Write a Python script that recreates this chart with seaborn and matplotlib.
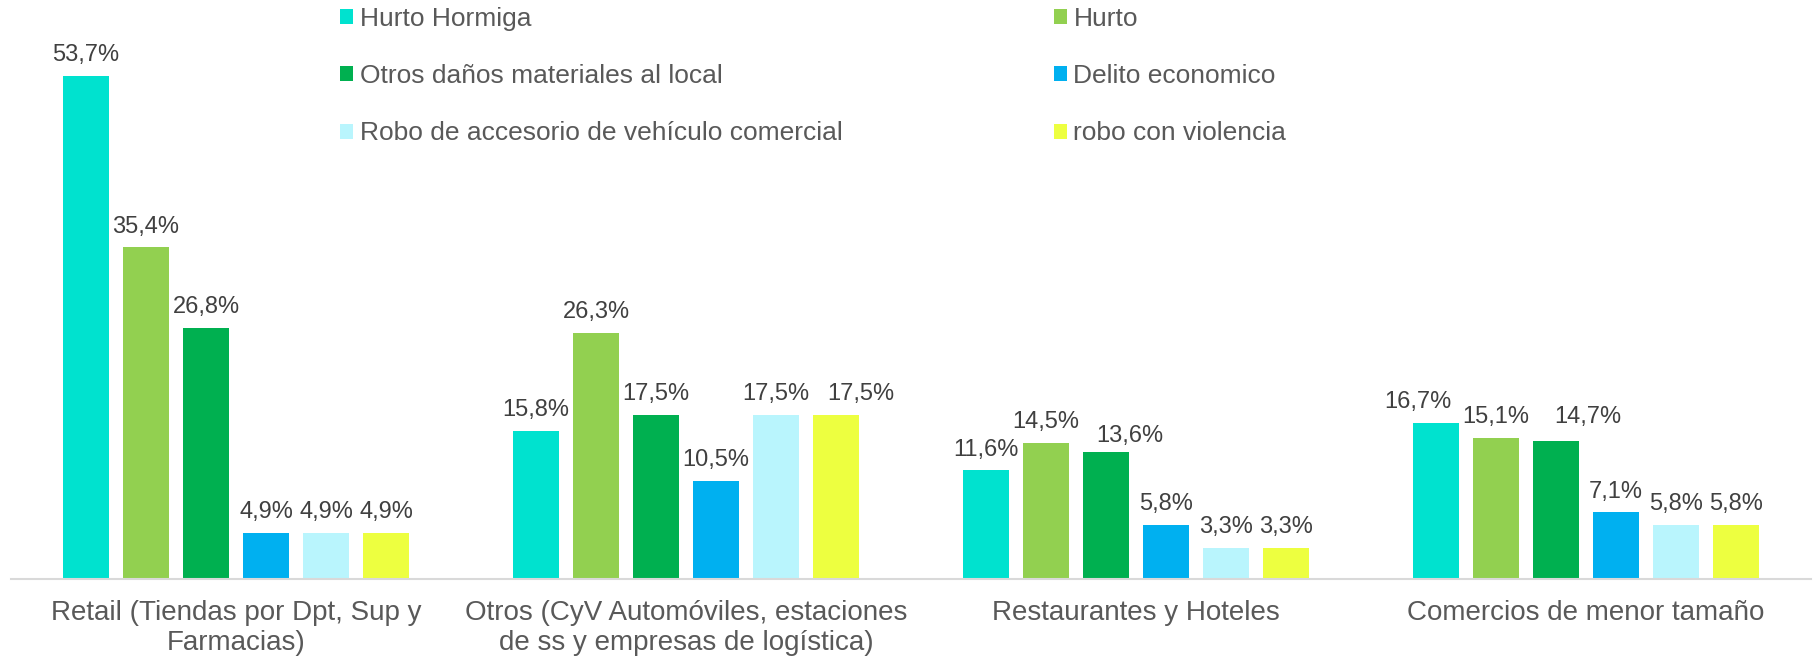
import matplotlib
matplotlib.use("Agg")
import matplotlib.pyplot as plt
from matplotlib.patches import Patch
import seaborn as sns
import pandas as pd

# Data
categories = [
    "Retail (Tiendas por Dpt, Sup y\nFarmacias)",
    "Otros (CyV Automóviles, estaciones\nde ss y empresas de logística)",
    "Restaurantes y Hoteles",
    "Comercios de menor tamaño",
]
series = [
    "Hurto Hormiga",
    "Hurto",
    "Otros daños materiales al local",
    "Delito economico",
    "Robo de accesorio de vehículo comercial",
    "robo con violencia",
]
hurto_hormiga = [53.7, 15.8, 11.6, 16.7]
hurto = [35.4, 26.3, 14.5, 15.1]
otros_danos = [26.8, 17.5, 13.6, 14.7]
delito_economico = [4.9, 10.5, 5.8, 7.1]
robo_accesorio = [4.9, 17.5, 3.3, 5.8]
robo_violencia = [4.9, 17.5, 3.3, 5.8]
colors = ["#00E2CF", "#92D050", "#00B050", "#00B0F0", "#B9F5FD", "#EDFF40"]

values = [hurto_hormiga, hurto, otros_danos, delito_economico,
          robo_accesorio, robo_violencia]
df = pd.DataFrame(
    [(c, s, v[i]) for s, v in zip(series, values) for i, c in enumerate(categories)],
    columns=["categoria", "tipo", "pct"],
)

# labels nudged sideways in the original to avoid colliding (series idx, category idx) -> px
label_nudge = {(5, 1): (25, 0), (2, 2): (24, -5), (0, 3): (-18, 0), (2, 3): (32, 4)}

plt.rcParams["font.family"] = ["Liberation Sans", "DejaVu Sans"]

fig = plt.figure(figsize=(18.14, 6.61), dpi=100)
ax = fig.add_axes([11 / 1814, 1 - 579 / 661, 1800 / 1814, 562 / 661])

sns.barplot(
    data=df, x="categoria", y="pct", hue="tipo",
    order=categories, hue_order=series, palette=colors,
    width=0.8, gap=0.22, saturation=1, legend=False, ax=ax,
)

# Value labels with comma decimal separator
pad = 7
for si, cont in enumerate(ax.containers):
    anns = ax.bar_label(
        cont, labels=[f"{b.get_height():.1f}%".replace(".", ",") for b in cont],
        padding=pad, fontsize=17, color="#404040",
    )
    for ci, ann in enumerate(anns):
        dx, dy = label_nudge.get((si, ci), (0, 0))
        ann.xyann = (dx * 0.72, pad + dy * 0.72)

ax.set_ylim(0, 60)
ax.set_xlim(-0.5, 3.5)
ax.set_xlabel("")
ax.set_ylabel("")
ax.set_yticks([])
for side in ["top", "right", "left"]:
    ax.spines[side].set_visible(False)
ax.spines["bottom"].set_color("#D9D9D9")
ax.spines["bottom"].set_linewidth(1.5)
ax.tick_params(axis="x", length=0, pad=15, labelsize=20, labelcolor="#595959")
for lbl in ax.get_xticklabels():
    lbl.set_linespacing(1.2)

# Manual legend, 2 columns, row-major order as in the reference
handles = [Patch(facecolor=c, edgecolor="none") for c in colors]
order = [0, 2, 4, 1, 3, 5]
leg = fig.legend(
    [handles[i] for i in order], [series[i] for i in order],
    ncol=2, loc="upper left", bbox_to_anchor=(340 / 1814, 1 - 7 / 661),
    frameon=False, fontsize=19, labelcolor="#595959",
    handlelength=0.5, handleheight=0.5, handletextpad=0.25,
    labelspacing=1.26, columnspacing=8.0, borderpad=0, borderaxespad=0,
)

fig.savefig("out.png", dpi=100, facecolor="white")
